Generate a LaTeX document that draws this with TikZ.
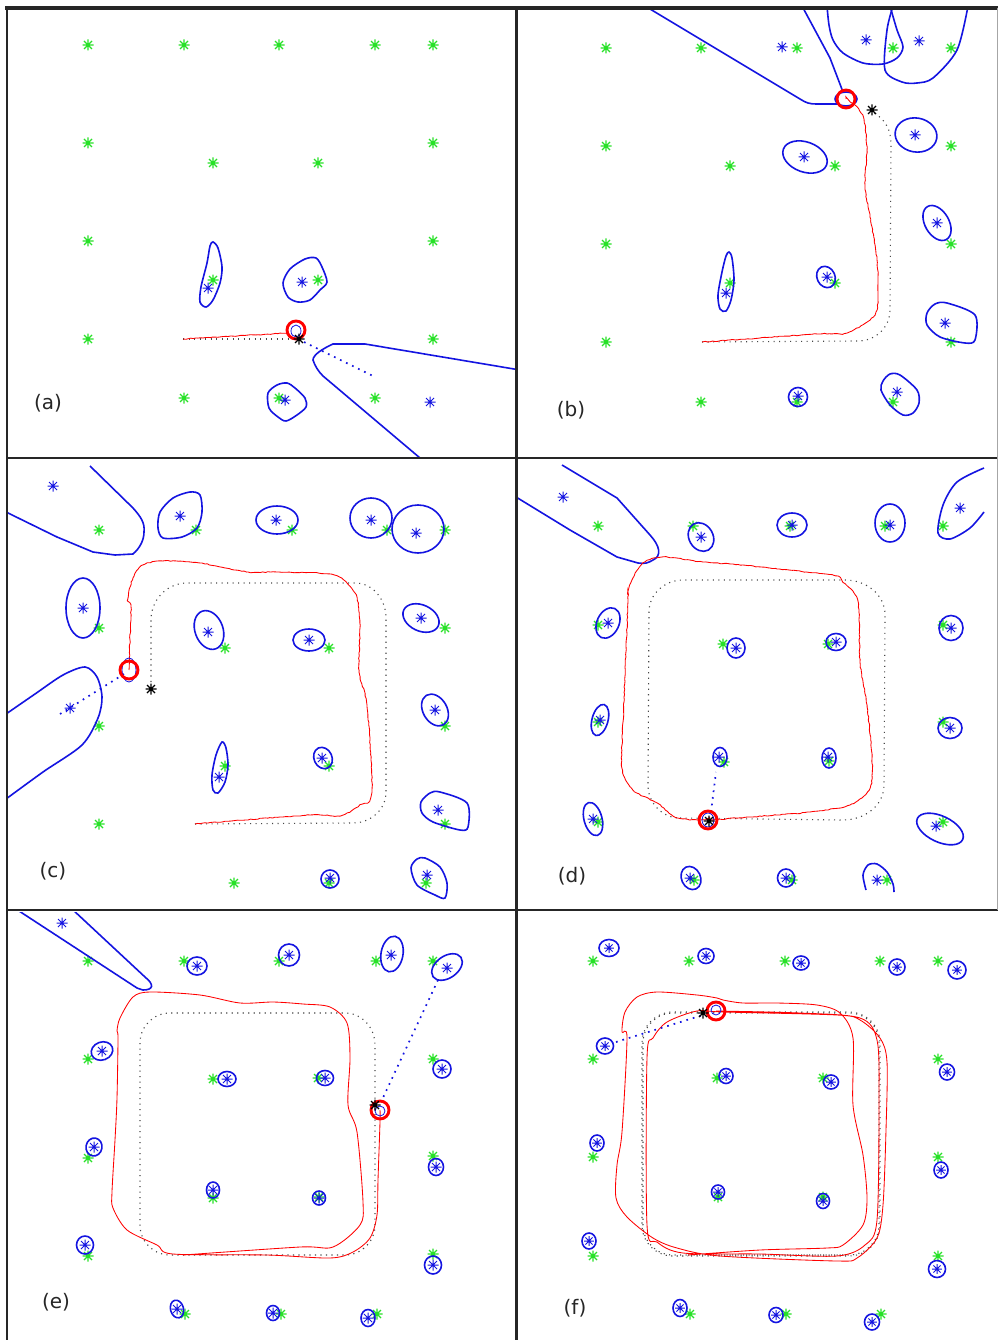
\documentclass[tikz,border=0pt]{standalone}
\usepackage{fontspec}
\setmainfont{DejaVu Sans}
\usetikzlibrary{decorations.pathmorphing}
\definecolor{lmgreen}{RGB}{40,225,40}
\definecolor{lmblue}{RGB}{20,20,225}
\begin{document}
\begin{tikzpicture}[x=1pt,y=-1pt,
  frame/.style={draw=black!85,line width=2.2pt},
  ell/.style={draw=lmblue,line width=1.6pt},
  trajp/.style={draw=red,line width=0.85pt},
  traj/.style={trajp,decorate,decoration={random steps,segment length=2.5pt,amplitude=0.45pt}},
  truth/.style={draw=black!72,line width=1.1pt,dash pattern=on 1.1pt off 4.4pt},
  obs/.style={draw=lmblue,line width=1.7pt,dash pattern=on 1.7pt off 5pt},
  robot/.style={draw=red,line width=2.9pt},
  lab/.style={font=\fontsize{20}{22}\selectfont,inner sep=0pt,text=black!85},
  gs/.pic={\draw[lmgreen,line width=1.15pt] (-5.5,0)--(5.5,0) (0,-5.5)--(0,5.5) (-4,-4)--(4,4) (-4,4)--(4,-4);},
  bs/.pic={\draw[lmblue,line width=1pt] (-5.5,0)--(5.5,0) (0,-5.5)--(0,5.5) (-4,-4)--(4,4) (-4,4)--(4,-4);},
  ks/.pic={\draw[black,line width=1.1pt] (-5.5,0)--(5.5,0) (0,-5.5)--(0,5.5) (-4,-4)--(4,4) (-4,4)--(4,-4);}
]
\useasboundingbox (0,0) rectangle (998,1340);
\fill[white] (0,0) rectangle (998,1340);

% ---------------- panel (a)
\begin{scope}
\clip (8,10) rectangle (515,457);
\foreach \p in {(88,45),(184,45),(279,45),(375,45),(433,45),(88,143),(433,143),(213,163),(318,163),(88,241),(433,241),(213,280),(318,280),(88,339),(433,339),(184,398),(279,398),(375,398)} \pic at \p {gs};
\draw[ell] plot[smooth cycle] coordinates {(213,242)(218,248)(222,267)(220,283)(213,300)(206,307)(200,302)(201,287)(207,263)(210,246)};
\pic at (208,288) {bs};
\draw[ell] plot[smooth cycle] coordinates {(283,283)(290,269)(305,259)(316,258)(322,267)(327,282)(320,290)(310,300)(298,302)(288,297)};
\pic at (302,282) {bs};
\draw[ell] plot[smooth cycle] coordinates {(268,393)(277,385)(287,383)(295,388)(305,398)(306,407)(297,415)(286,421)(278,417)(269,408)};
\pic at (285,400) {bs};
\draw[ell] (520,370) -- (365,344) -- (333,344) .. controls (322,349) and (313,355) .. (313,360) .. controls (315,366) and (318,371) .. (323,376) -- (420,458);
\pic at (430,402) {bs};
\draw[truth] (183,339) -- (298,339);
\draw[traj] (183,339) -- (288,333);
\draw[obs] (304,342) -- (375,377);
\draw[lmblue,line width=0.8pt] (296,331) ellipse [x radius=5,y radius=6];
\draw[robot] (296,330) circle [radius=9];
\pic at (299,339) {ks};
\node[lab] (la) at (48,403) {(a)};
\end{scope}

% ---------------- panel (b)
\begin{scope}
\clip (518,10) rectangle (996,457);
\foreach \p in {(606,48),(701,48),(797,48),(893,48),(951,48),(606,146),(951,146),(730,166),(835,166),(606,244),(951,244),(730,283),(835,283),(606,342),(951,342),(701,402),(797,402),(893,402)} \pic at \p {gs};
\draw[ell] (645,6) -- (800,99) .. controls (806,103) and (810,104) .. (816,104) -- (838,104);
\draw[ell] (802,6) -- (830,58) -- (843,92);
\draw[ell] (846,99) ellipse [x radius=11,y radius=7];
\pic at (782,47) {bs};
\draw[ell] plot[smooth] coordinates {(827,6)(829,25)(833,40)(843,53)(863,63)(883,64)(897,58)(903,47)(897,30)(890,6)};
\draw[ell] plot[smooth] coordinates {(893,6)(887,30)(885,70)(902,82)(917,83)(933,78)(957,50)(968,6)};
\pic at (866,40) {bs};
\pic at (919,41) {bs};
\draw[truth] (702,342) -- (858,341) to[out=0,in=-90] (890,310) -- (891,145) to[out=90,in=-30] (874,113);
\draw[traj] plot[smooth] coordinates {(846,99)(857,107)(864,120)(867,150)(865,187)(872,227)(877,260)(878,283)(877,310)(867,322)(847,333)(832,334)(817,334)(760,338)(702,342)};
\draw[robot] (846,99) circle [radius=9];
\pic at (872,110) {ks};
\draw[ell,rotate around={-10:(916,135)}] (916,135) ellipse [x radius=21,y radius=17];
\pic at (915,135) {bs};
\draw[ell,rotate around={-20:(805,157)}] (805,157) ellipse [x radius=23,y radius=15];
\pic at (804,157) {bs};
\draw[ell,rotate around={30:(937,223)}] (937,223) ellipse [x radius=12,y radius=19];
\pic at (937,223) {bs};
\draw[ell] plot[smooth cycle] coordinates {(729,252)(732,258)(734,280)(731,300)(726,311)(720,309)(718,295)(722,272)(726,256)};
\pic at (726,293) {bs};
\draw[ell,rotate around={25:(826,277)}] (826,277) ellipse [x radius=9,y radius=11];
\pic at (827,277) {bs};
\draw[ell] plot[smooth cycle] coordinates {(927,313)(935,304)(947,303)(975,315)(975,340)(965,343)(940,337)(927,325)};
\pic at (945,323) {bs};
\draw[ell] (798,397) circle [radius=9.5];
\pic at (798,396) {bs};
\draw[ell] plot[smooth cycle] coordinates {(881,390)(883,381)(890,374)(900,375)(917,390)(919,403)(913,413)(903,415)(890,405)};
\pic at (897,392) {bs};
\node[lab] (lb) at (571,410) {(b)};
\end{scope}

% ---------------- panel (c)
\begin{scope}
\clip (8,459) rectangle (515,909);
\foreach \p in {(99,530),(196,530),(292,530),(387,530),(445,530),(99,628),(445,628),(225,648),(329,648),(99,726),(445,726),(225,766),(329,766),(99,824),(445,824),(234,883),(329,883),(426,883)} \pic at \p {gs};
\draw[ell] (90,466) -- (133,508) .. controls (141,517) and (145,523) .. (144,532) .. controls (144,540) and (140,548) .. (133,554) -- (115,555) -- (93,552) -- (57,537) -- (6,512);
\pic at (53,486) {bs};
\draw[ell] plot[smooth cycle] coordinates {(158,528)(160,512)(173,498)(190,492)(200,495)(202,512)(197,528)(182,537)(163,538)};
\pic at (180,516) {bs};
\draw[ell] (277,520) ellipse [x radius=21,y radius=14];
\pic at (276,520) {bs};
\draw[ell] (371,518) ellipse [x radius=21,y radius=20];
\pic at (371,520) {bs};
\draw[ell] (418,529) ellipse [x radius=26,y radius=24];
\pic at (416,533) {bs};
\draw[ell] (83,608) ellipse [x radius=17,y radius=30];
\pic at (83,608) {bs};
\draw[ell] plot[smooth] coordinates {(6,714)(35,694)(63,675)(85,667)(97,677)(102,697)(98,718)(82,745)(43,772)(6,799)};
\pic at (70,708) {bs};
\draw[obs] (60,714) -- (124,674);
\draw[truth] (195,824) -- (353,823) to[out=0,in=-90] (386,792) -- (386,618) to[out=90,in=0] (355,583) -- (187,583) to[out=180,in=90] (151,620) -- (151,682);
\draw[traj] plot[smooth] coordinates {(129,670)(130,640)(131,607)(128,599)(133,578)(143,565)(163,561)(200,563)(248,572)(277,572)(330,574)(347,583)(357,598)(360,628)(359,672)(367,705)(372,792)(360,805)(340,816)(310,815)(195,824)};
\draw[lmblue,line width=0.8pt] (129,670) ellipse [x radius=7,y radius=12];
\draw[robot] (129,670) circle [radius=9];
\pic at (151,689) {ks};
\draw[ell,rotate around={20:(209,630)}] (209,630) ellipse [x radius=14,y radius=20];
\pic at (208,632) {bs};
\draw[ell] (309,640) ellipse [x radius=16,y radius=11];
\pic at (309,640) {bs};
\draw[ell] plot[smooth cycle] coordinates {(222,742)(226,748)(228,765)(225,782)(218,793)(213,790)(212,775)(216,755)};
\pic at (219,777) {bs};
\draw[ell,rotate around={25:(323,758)}] (323,758) ellipse [x radius=9,y radius=11];
\pic at (322,758) {bs};
\draw[ell,rotate around={-25:(421,618)}] (421,618) ellipse [x radius=19,y radius=13];
\pic at (421,618) {bs};
\draw[ell,rotate around={30:(435,710)}] (435,710) ellipse [x radius=12,y radius=17];
\pic at (435,710) {bs};
\draw[ell] plot[smooth cycle] coordinates {(421,802)(430,793)(440,792)(467,803)(468,827)(460,830)(433,822)(422,813)};
\pic at (438,810) {bs};
\draw[ell] (330,879) circle [radius=9];
\pic at (330,878) {bs};
\draw[ell] plot[smooth cycle] coordinates {(411,868)(417,859)(425,858)(440,867)(447,883)(445,898)(435,895)(417,885)};
\pic at (427,875) {bs};
\node[lab] (lc) at (53,871) {(c)};
\end{scope}

% ---------------- panel (d)
\begin{scope}
\clip (518,459) rectangle (996,909);
\foreach \p in {(598,526),(693,526),(790,526),(885,526),(943,526),(598,625),(943,625),(723,644),(828,644),(598,722),(943,722),(724,762),(829,761),(598,822),(943,822),(694,880),(792,880),(887,880)} \pic at \p {gs};
\draw[ell] (562,465) -- (617,498) -- (650,535) .. controls (660,546) and (662,556) .. (653,560) .. controls (648,563) and (645,564) .. (638,563) -- (617,557) -- (570,530) -- (516,497);
\pic at (563,497) {bs};
\draw[ell,rotate around={30:(701,537)}] (701,537) ellipse [x radius=12,y radius=15];
\pic at (701,537) {bs};
\draw[ell] (792,525) ellipse [x radius=15,y radius=12];
\pic at (792,525) {bs};
\draw[ell] (890,523) ellipse [x radius=15,y radius=19];
\pic at (890,525) {bs};
\draw[ell] plot[smooth] coordinates {(984,468)(957,482)(943,505)(938,533)(950,539)(970,528)(984,512)};
\pic at (960,508) {bs};
\draw[truth] (680,818) -- (843,820) to[out=0,in=-90] (884,785) -- (885,615) to[out=90,in=0] (845,580) -- (683,580) to[out=180,in=90] (649,612) -- (648,785) to[out=-90,in=180] (680,818);
\draw[traj] plot[smooth] coordinates {(710,820)(678,818)(657,803)(633,790)(622,768)(623,722)(628,602)(627,597)(632,580)(643,563)(663,557)(703,562)(743,565)(777,569)(833,575)(843,582)(858,602)(860,662)(867,705)(872,758)(870,788)(850,805)(810,812)(777,815)(710,820)};
\draw[obs] (711,812) -- (716,772);
\draw[lmblue,line width=0.8pt] (708,820) ellipse [x radius=6,y radius=7];
\draw[robot] (708,820) circle [radius=9];
\pic at (709,821) {ks};
\draw[ell] (736,648) ellipse [x radius=9,y radius=10];
\pic at (736,648) {bs};
\draw[ell] (836,642) ellipse [x radius=10,y radius=8.5];
\pic at (836,642) {bs};
\draw[ell] (720,757) ellipse [x radius=7,y radius=9.5];
\pic at (719,757) {bs};
\draw[ell] (829,758) ellipse [x radius=7,y radius=10];
\pic at (828,757) {bs};
\draw[ell,rotate around={-25:(608,623)}] (608,623) ellipse [x radius=11,y radius=16];
\pic at (608,623) {bs};
\draw[ell,rotate around={-15:(600,720)}] (600,720) ellipse [x radius=8,y radius=16];
\pic at (600,720) {bs};
\draw[ell,rotate around={15:(593,819)}] (593,819) ellipse [x radius=9,y radius=17];
\pic at (593,819) {bs};
\draw[ell] (951,628) ellipse [x radius=12,y radius=12.5];
\pic at (951,628) {bs};
\draw[ell] (950,728) ellipse [x radius=12,y radius=10.5];
\pic at (950,728) {bs};
\draw[ell,rotate around={-25:(940,829)}] (940,829) ellipse [x radius=25,y radius=13];
\pic at (936,826) {bs};
\draw[ell,rotate around={25:(691,878)}] (691,878) ellipse [x radius=9.5,y radius=12];
\pic at (690,878) {bs};
\draw[ell] (786,878) ellipse [x radius=8.5,y radius=9];
\pic at (786,878) {bs};
\draw[ell] plot[smooth] coordinates {(866,890)(863,875)(868,865)(877,864)(887,872)(893,884)(894,892)};
\pic at (877,880) {bs};
\node[lab] (ld) at (572,876) {(d)};
\end{scope}

% ---------------- panel (e)
\begin{scope}
\clip (8,912) rectangle (515,1340);
\foreach \p in {(88,961),(184,961),(279,961),(376,961),(433,961),(88,1059),(433,1059),(213,1079),(318,1078),(88,1158),(433,1156),(213,1198),(319,1197),(88,1256),(433,1254),(185,1314),(281,1314),(377,1314)} \pic at \p {gs};
\draw[ell] (72,909) -- (145,977) .. controls (155,985) and (153,990) .. (143,990) -- (137,988) -- (16,909);
\pic at (62,923) {bs};
\draw[ell] (197,966) ellipse [x radius=10,y radius=9];
\pic at (197,966) {bs};
\draw[ell] (289,955) ellipse [x radius=10.5,y radius=11];
\pic at (289,955) {bs};
\draw[ell,rotate around={-10:(392,954)}] (392,954) ellipse [x radius=11,y radius=18];
\pic at (391,955) {bs};
\draw[ell,rotate around={35:(447,967)}] (447,967) ellipse [x radius=17,y radius=11];
\pic at (447,968) {bs};
\draw[obs] (438,980) -- (381,1102);
\draw[truth] (183,1255) -- (345,1255) to[out=0,in=-90] (375,1225) -- (375,1045) to[out=90,in=0] (345,1013) -- (170,1013) to[out=180,in=90] (140,1043) -- (140,1225) to[out=-90,in=180] (170,1255) -- (345,1255) to[out=0,in=-90] (375,1225) -- (375,1106);
\draw[trajp] plot[smooth] coordinates {(183,1255)(300,1247)(333,1247)(360,1225)(363,1202)(357,1132)(348,1105)(350,1058)(347,1023)(330,1007)(303,1004)(273,1002)(240,1003)(200,995)(150,992)(133,997)(120,1018)(117,1031)(118,1038)(117,1098)(115,1140)(112,1192)(113,1208)(127,1230)(157,1245)(173,1254)(267,1255)(330,1258)(353,1252)(370,1238)(377,1215)(378,1180)(380,1122)(380,1110)};
\draw[lmblue,line width=0.8pt] (380,1111) circle [radius=5];
\draw[robot] (380,1110) circle [radius=9];
\pic at (375,1105) {ks};
\draw[ell,rotate around={20:(102,1051)}] (102,1051) ellipse [x radius=11,y radius=9];
\pic at (102,1051) {bs};
\draw[ell,rotate around={-10:(94,1147)}] (94,1147) ellipse [x radius=8,y radius=9];
\pic at (94,1147) {bs};
\draw[ell] (85,1245) ellipse [x radius=8.5,y radius=9];
\pic at (85,1245) {bs};
\draw[ell] (227,1079) ellipse [x radius=9,y radius=7.5];
\pic at (227,1079) {bs};
\draw[ell] (325,1078) ellipse [x radius=8.5,y radius=7.5];
\pic at (325,1078) {bs};
\draw[ell] (213,1190) ellipse [x radius=6.5,y radius=8];
\pic at (213,1190) {bs};
\draw[ell] (319,1198) ellipse [x radius=6.5,y radius=7];
\pic at (319,1198) {bs};
\draw[ell] (442,1069) ellipse [x radius=9,y radius=9];
\pic at (442,1069) {bs};
\draw[ell] (436,1167) ellipse [x radius=7.5,y radius=8.5];
\pic at (436,1167) {bs};
\draw[ell] (433,1265) ellipse [x radius=8.5,y radius=9];
\pic at (433,1265) {bs};
\draw[ell,rotate around={15:(177,1309)}] (177,1309) ellipse [x radius=6.5,y radius=9];
\pic at (177,1309) {bs};
\draw[ell] (273,1313) ellipse [x radius=6.5,y radius=7.5];
\pic at (273,1313) {bs};
\draw[ell] (368,1318) ellipse [x radius=7,y radius=8.5];
\pic at (368,1318) {bs};
\node[lab] (le) at (56,1302) {(e)};
\end{scope}

% ---------------- panel (f)
\begin{scope}
\clip (518,912) rectangle (996,1340);
\foreach \p in {(593,961),(689,961),(785,961),(880,961),(938,961),(593,1059),(938,1059),(717,1078),(823,1078),(593,1157),(938,1157),(718,1197),(823,1197),(593,1256),(938,1256),(690,1314),(786,1314),(881,1314)} \pic at \p {gs};
\foreach \c/\rx/\ry in {{(609,948)}/10/8.5,{(706,956)}/8/7.5,{(801,963)}/8/7,{(897,967)}/8/8,{(957,970)}/9/9,{(605,1046)}/8.5/8,{(597,1143)}/7/8,{(589,1241)}/7/8,{(726,1076)}/7/7.5,{(831,1082)}/7.5/7,{(718,1192)}/6.5/7,{(823,1201)}/6.5/7.5,{(947,1072)}/7.5/8,{(941,1170)}/7/8,{(937,1269)}/8.5/8.5,{(680,1308)}/7/8.5,{(776,1315)}/7/7.5,{(872,1322)}/7.5/8}
{\draw[ell] \c ellipse [x radius=\rx,y radius=\ry]; \pic[scale=0.9] at \c {bs};}
\draw[truth] (688,1255) -- (849,1255) to[out=0,in=-90] (879,1225) -- (879,1043) to[out=90,in=0] (849,1013) -- (673,1013) to[out=180,in=90] (643,1043) -- (643,1225) to[out=-90,in=180] (673,1255) -- (849,1255);
\draw[truth,dash phase=2.5pt] (688,1256) -- (849,1256) to[out=0,in=-90] (880,1225) -- (880,1043) to[out=90,in=0] (849,1012) -- (673,1012) to[out=180,in=90] (642,1043) -- (642,1225) to[out=-90,in=180] (673,1256) -- (688,1256);
\draw[trajp] plot[smooth] coordinates {(688,1255)(760,1250)(827,1248)(843,1245)(863,1225)(867,1198)(863,1155)(853,1105)(853,1038)(840,1013)(817,1005)(777,1003)(743,1003)(723,1000)(717,998)(697,995)(657,992)(637,997)(625,1012)(622,1032)(627,1038)(622,1132)(617,1165)(616,1198)(627,1217)(653,1238)(677,1248)(720,1256)(837,1261)(857,1258)(877,1238)(883,1205)(886,1130)(887,1062)(880,1038)(860,1020)(837,1015)(723,1012)(697,1011)(667,1022)(653,1038)(647,1058)(647,1225)(657,1242)(683,1253)(760,1254)(837,1256)(865,1245)(877,1220)(879,1100)(877,1040)(860,1018)(800,1013)(716,1011)};
\draw[obs] (616,1042) -- (703,1015);
\draw[lmblue,line width=0.8pt] (716,1010) circle [radius=5];
\draw[robot] (716,1011) circle [radius=9];
\pic at (703,1013) {ks};
\node[lab] (lf) at (575,1308) {(f)};
\end{scope}

% ---------------- frames
\draw[frame,line width=4pt] (5,8) -- (998,8);
\draw[frame] (7,8) -- (7,1340);
\draw[frame,line width=3pt] (516,8) -- (516,1340);
\draw[frame,line width=2pt] (7,458) -- (998,458);
\draw[frame,line width=2pt] (7,910) -- (998,910);
\draw[black!35,line width=1pt] (997,8) -- (997,910);
\end{tikzpicture}
\end{document}
